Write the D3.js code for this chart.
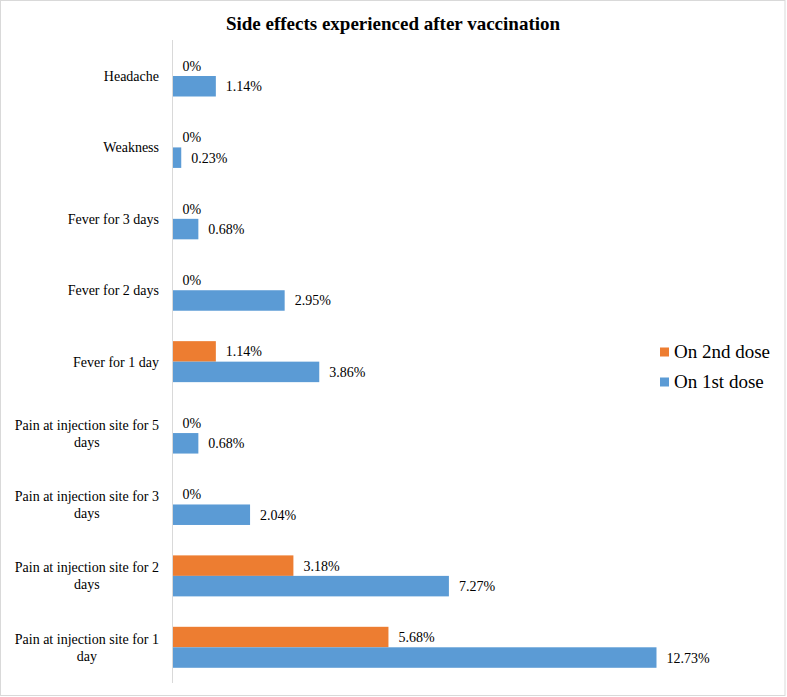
<!DOCTYPE html>
<html>
<head>
<meta charset="utf-8">
<script src="https://cdn.jsdelivr.net/npm/d3@7"></script>
<style>
  html, body { margin: 0; padding: 0; background: #fff; }
  svg { display: block; }
</style>
</head>
<body>
<svg id="chart" width="787" height="697"></svg>
<script>
const title = "Side effects experienced after vaccination";
const categories = [
  "Headache",
  "Weakness",
  "Fever for 3 days",
  "Fever for 2 days",
  "Fever for 1 day",
  "Pain at injection site for 5 days",
  "Pain at injection site for 3 days",
  "Pain at injection site for 2 days",
  "Pain at injection site for 1 day"
];
const categoryLines = [
  ["Headache"],
  ["Weakness"],
  ["Fever for 3 days"],
  ["Fever for 2 days"],
  ["Fever for 1 day"],
  ["Pain at injection site for 5", "days"],
  ["Pain at injection site for 3", "days"],
  ["Pain at injection site for 2", "days"],
  ["Pain at injection site for 1", "day"]
];
const seriesNames = ["On 2nd dose", "On 1st dose"];
const secondDose = [0, 0, 0, 0, 1.14, 0, 0, 3.18, 5.68];
const firstDose = [1.14, 0.23, 0.68, 2.95, 3.86, 0.68, 2.04, 7.27, 12.73];
const seriesColors = ["#ED7D31", "#5B9BD5"];

const svg = d3.select("#chart");
const serif = "'Liberation Serif', 'Times New Roman', serif";

// outer border
svg.append("rect")
  .attr("x", 0.5).attr("y", 0.5)
  .attr("width", 784.5).attr("height", 695)
  .attr("fill", "#fff").attr("stroke", "#d9d9d9").attr("stroke-width", 1);

// title
svg.append("text")
  .attr("x", 393).attr("y", 30)
  .attr("text-anchor", "middle")
  .attr("font-family", serif).attr("font-weight", "bold").attr("font-size", 19)
  .attr("fill", "#000")
  .text(title);

const x0 = 172.5;
const x = d3.scaleLinear().domain([0, 14]).range([x0, x0 + 14 * 38.02]);

const y = d3.scaleBand()
  .domain(categories)
  .range([40.3, 683])
  .paddingInner(0.426)
  .paddingOuter(0.213);

const ySub = d3.scaleBand().domain(seriesNames).range([0, y.bandwidth()]);

const rows = categories.map((c, i) => ({
  cat: c,
  lines: categoryLines[i],
  vals: [secondDose[i], firstDose[i]]
}));

// bars
const g = svg.append("g");
rows.forEach(r => {
  r.vals.forEach((v, si) => {
    const by = y(r.cat) + ySub(seriesNames[si]);
    if (v > 0) {
      g.append("rect")
        .attr("x", x(0)).attr("y", by)
        .attr("width", x(v) - x(0)).attr("height", ySub.bandwidth())
        .attr("fill", seriesColors[si]);
    }
    g.append("text")
      .attr("x", x(v) + 10)
      .attr("y", by + ySub.bandwidth() / 2 + 5)
      .attr("font-family", serif).attr("font-size", 14)
      .attr("fill", "#000")
      .text(v === 0 ? "0%" : v.toFixed(2) + "%");
  });
});

// axis line
svg.append("line")
  .attr("x1", x(0)).attr("x2", x(0))
  .attr("y1", 40).attr("y2", 683)
  .attr("stroke", "#d9d9d9").attr("stroke-width", 1);

// category labels
const labelRight = 159;
const lineH = 17;
rows.forEach(r => {
  const cy = y(r.cat) + y.bandwidth() / 2;
  const t = svg.append("text")
    .attr("font-family", serif).attr("font-size", 14).attr("fill", "#000");
  const spans = r.lines.map((ln, li) =>
    t.append("tspan")
      .attr("y", cy + (li - (r.lines.length - 1) / 2) * lineH + 5)
      .text(ln));
  const maxW = d3.max(spans, s => s.node().getComputedTextLength());
  spans.forEach(s => s.attr("x", labelRight - maxW / 2).attr("text-anchor", "middle"));
});

// legend
const legend = svg.append("g");
seriesNames.forEach((n, i) => {
  const ly = 352 + i * 30;
  legend.append("rect")
    .attr("x", 660).attr("y", ly - 4.5)
    .attr("width", 9).attr("height", 9)
    .attr("fill", seriesColors[i]);
  legend.append("text")
    .attr("x", 674).attr("y", ly + 6)
    .attr("font-family", serif).attr("font-size", 19)
    .attr("fill", "#000")
    .text(n);
});
</script>
</body>
</html>
